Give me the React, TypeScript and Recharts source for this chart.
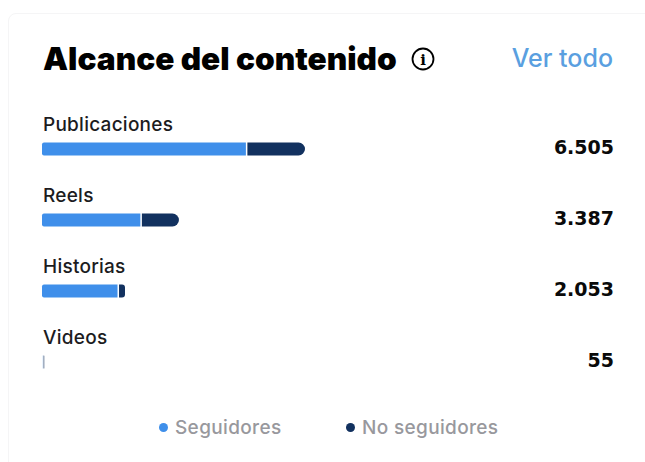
import React from "react";
import { BarChart, Bar, XAxis, YAxis, Legend, Rectangle } from "recharts";

const categories = ["Publicaciones", "Reels", "Historias", "Videos"];
const totals = [6505, 3387, 2053, 55];
const followers = [5080, 2470, 1905, 40];
const nonFollowers = [1425, 917, 148, 15];

const BLUE = "#3f8fea";
const NAVY = "#12315f";
const FONT = "Inter, 'Liberation Sans', sans-serif";
const NUMBER_FONT = "'DejaVu Sans', sans-serif";

const rows = categories.map((name, i) => ({
  name,
  total: totals[i],
  followers: followers[i],
  nonFollowers: nonFollowers[i],
}));

// Leaves a thin white seam between the two segments of a stacked bar.
const FollowerBar = (props: any) => (
  <Rectangle {...props} width={Math.max(props.width - 1.5, 0)} radius={[2, 0, 0, 2]} />
);

const renderCategoryTick = ({ y, payload }: any) => (
  <text x={43} y={y - 18} fontFamily={FONT} fontSize={19} fontWeight={500} letterSpacing={0.25} fill="#1c1c1e">
    {payload.value}
  </text>
);

const renderTotalTick = ({ y, payload }: any) => (
  <text x={614} y={y + 5} textAnchor="end" fontFamily={NUMBER_FONT} fontSize={19} fontWeight={700} fill="#0a0a0a">
    {Number(payload.value).toLocaleString("es-ES", { useGrouping: "always" } as any)}
  </text>
);

const LegendRow = ({ payload }: any) => (
  <div style={{ position: "relative", height: 24, fontFamily: FONT, fontSize: 19, letterSpacing: 0.35, fontWeight: 500, color: "#98989d" }}>
    {(payload ?? []).map((item: any, i: number) => (
      <div key={item.value} style={{ position: "absolute", left: [159, 346][i], top: 0, display: "flex", alignItems: "center", height: 24 }}>
        <span style={{ width: 9, height: 9, borderRadius: "50%", background: item.color, marginRight: 7 }} />
        {item.value}
      </div>
    ))}
  </div>
);

export default function App() {
  return (
    <div style={{ position: "absolute", left: 0, top: 0, width: 645, height: 462, background: "#fff", overflow: "hidden" }}>
      <div style={{ position: "absolute", left: 8, top: 13, width: 660, height: 480, border: "1px solid #f5f5f6", borderRadius: 8 }} />
      <div style={{ position: "absolute", left: 43, top: 39, fontFamily: FONT, fontSize: 31.6, fontWeight: 900, color: "#000", whiteSpace: "nowrap" }}>
        Alcance del contenido
      </div>
      <svg width={26} height={26} style={{ position: "absolute", left: 411, top: 47 }}>
        <circle cx={12} cy={12} r={10.5} fill="none" stroke="#000" strokeWidth={1.8} />
        <text x={12} y={18} textAnchor="middle" fontFamily="'DejaVu Serif', serif" fontSize={15} fontWeight={700}>i</text>
      </svg>
      <div style={{ position: "absolute", right: 32, top: 43, fontFamily: FONT, fontSize: 25, fontWeight: 500, color: "#5a9fe0", whiteSpace: "nowrap" }}>
        Ver todo
      </div>
      <BarChart
        style={{ position: "absolute", left: 0, top: 0 }}
        width={645}
        height={462}
        layout="vertical"
        data={rows}
        barCategoryGap={29}
        margin={{ top: 113.5, right: 31, bottom: 40.5, left: 41 }}
      >
        <XAxis type="number" hide domain={[0, 14123]} />
        <YAxis type="category" dataKey="name" yAxisId="left" width={1} axisLine={false} tickLine={false} tick={renderCategoryTick} interval={0} />
        <YAxis type="category" dataKey="total" yAxisId="right" orientation="right" width={1} axisLine={false} tickLine={false} tick={renderTotalTick} interval={0} />
        <Bar dataKey="followers" name="Seguidores" yAxisId="left" stackId="reach" barSize={13} fill={BLUE} shape={<FollowerBar />} isAnimationActive={false} />
        <Bar dataKey="nonFollowers" name="No seguidores" yAxisId="left" stackId="reach" barSize={13} fill={NAVY} radius={[0, 6.5, 6.5, 0]} isAnimationActive={false} />
        <Legend content={<LegendRow />} itemSorter={null} wrapperStyle={{ left: 0, width: 645, bottom: 23 }} />
      </BarChart>
    </div>
  );
}
